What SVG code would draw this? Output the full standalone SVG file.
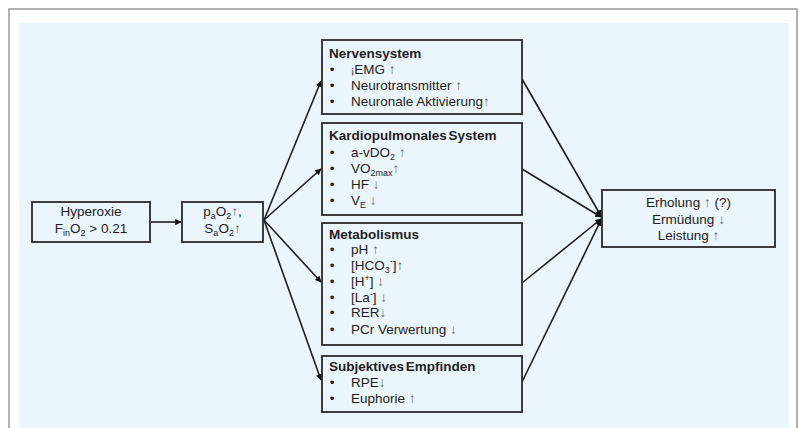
<svg xmlns="http://www.w3.org/2000/svg" width="805" height="428" viewBox="0 0 805 428">
<defs>
<style>
text{font-family:"Liberation Sans",Arial,sans-serif;font-size:13.5px;fill:#1e1e1e}
.t{font-weight:bold;word-spacing:-2px}
.c{text-anchor:middle}
.b{text-anchor:middle}
.s{font-size:9px}
.ar{fill:#6a6a6a}
.box{fill:#eaf5fc;stroke:#2a2a2a;stroke-width:1.8}
.ln{fill:none;stroke:#1e1e1e;stroke-width:1.6}
</style>
<marker id="ah" viewBox="0 0 10 10" refX="9" refY="5" markerWidth="4" markerHeight="4" orient="auto" markerUnits="strokeWidth">
<path d="M0,0 L10,5 L0,10 z" fill="#111"/>
</marker>
</defs>
<rect x="0" y="0" width="805" height="428" fill="#ffffff"/>
<path d="M9,428 V9 H797 V428" fill="none" stroke="#999" stroke-width="1.5"/>
<rect x="19" y="23" width="770" height="405" fill="#eaf5fc"/>

<g id="connectors">
<line class="ln" x1="151" y1="222" x2="181" y2="222" marker-end="url(#ah)"/>
<line class="ln" x1="264" y1="220" x2="321" y2="81" marker-end="url(#ah)"/>
<line class="ln" x1="264" y1="220" x2="321" y2="169" marker-end="url(#ah)"/>
<line class="ln" x1="264" y1="220" x2="321" y2="282" marker-end="url(#ah)"/>
<line class="ln" x1="264" y1="220" x2="321" y2="380" marker-end="url(#ah)"/>
<line class="ln" x1="522" y1="79" x2="601" y2="216" marker-end="url(#ah)"/>
<line class="ln" x1="522" y1="169" x2="601" y2="217" marker-end="url(#ah)"/>
<line class="ln" x1="522" y1="283" x2="601" y2="219" marker-end="url(#ah)"/>
<line class="ln" x1="522" y1="382" x2="601" y2="220" marker-end="url(#ah)"/>
</g>

<g id="hyperoxie">
<rect class="box" x="32" y="202" width="118" height="40"/>
<text class="c" x="91" y="216">Hyperoxie</text>
<text class="c" x="91" y="233">F<tspan class="s" dy="3">in</tspan><tspan dy="-3">O</tspan><tspan class="s" dy="3">2</tspan><tspan dy="-3"> &gt; 0.21</tspan></text>
</g>

<g id="pao2">
<rect class="box" x="182" y="202" width="81" height="40"/>
<text class="c" x="222.5" y="216">p<tspan class="s" dy="3">a</tspan><tspan dy="-3">O</tspan><tspan class="s" dy="3">2</tspan><tspan class="ar" dy="-3">↑</tspan>,</text>
<text class="c" x="222.5" y="233">S<tspan class="s" dy="3">a</tspan><tspan dy="-3">O</tspan><tspan class="s" dy="3">2</tspan><tspan class="ar" dy="-3">↑</tspan></text>
</g>

<g id="nervensystem">
<rect class="box" x="322" y="40" width="200" height="74"/>
<text class="t" x="329" y="57.5">Nervensystem</text>
<text class="b" x="332" y="74">•</text><text x="351" y="74"><tspan font-size="10">¡</tspan>EMG <tspan class="ar">↑</tspan></text>
<text class="b" x="332" y="90">•</text><text x="351" y="90">Neurotransmitter <tspan class="ar">↑</tspan></text>
<text class="b" x="332" y="106">•</text><text x="351" y="106">Neuronale Aktivierung<tspan class="ar">↑</tspan></text>
</g>

<g id="kardiopulmonal">
<rect class="box" x="322" y="123" width="200" height="92"/>
<text class="t" x="329" y="139.5">Kardiopulmonales System</text>
<text class="b" x="332" y="157">•</text><text x="351" y="157">a-vDO<tspan class="s" dy="3">2</tspan><tspan class="ar" dy="-3"> ↑</tspan></text>
<text class="b" x="332" y="173">•</text><text x="351" y="173">VO<tspan class="s" dy="3">2max</tspan><tspan class="ar" dy="-3">↑</tspan></text>
<text class="b" x="332" y="189">•</text><text x="351" y="189">HF <tspan class="ar">↓</tspan></text>
<text class="b" x="332" y="204.5">•</text><text x="351" y="204.5">V<tspan class="s" dy="3">E</tspan><tspan class="ar" dy="-3"> ↓</tspan></text>
</g>

<g id="metabolismus">
<rect class="box" x="322" y="223" width="200" height="122"/>
<text class="t" x="329" y="238.5">Metabolismus</text>
<text class="b" x="332" y="254">•</text><text x="351" y="254">pH <tspan class="ar">↑</tspan></text>
<text class="b" x="332" y="270">•</text><text x="351" y="270">[HCO<tspan class="s" dy="3">3</tspan><tspan class="s" dy="-9">-</tspan><tspan dy="6">]</tspan><tspan class="ar">↑</tspan></text>
<text class="b" x="332" y="286">•</text><text x="351" y="286">[H<tspan class="s" dy="-5">+</tspan><tspan dy="5">] </tspan><tspan class="ar">↓</tspan></text>
<text class="b" x="332" y="301.5">•</text><text x="351" y="301.5">[La<tspan class="s" dy="-5">-</tspan><tspan dy="5">] </tspan><tspan class="ar">↓</tspan></text>
<text class="b" x="332" y="317">•</text><text x="351" y="317">RER<tspan class="ar">↓</tspan></text>
<text class="b" x="332" y="334">•</text><text x="351" y="334">PCr Verwertung <tspan class="ar">↓</tspan></text>
</g>

<g id="subjektiv">
<rect class="box" x="322" y="356" width="200" height="56"/>
<text class="t" x="329" y="370.5">Subjektives Empfinden</text>
<text class="b" x="332" y="387">•</text><text x="351" y="387">RPE<tspan class="ar">↓</tspan></text>
<text class="b" x="332" y="402.5">•</text><text x="351" y="402.5">Euphorie <tspan class="ar">↑</tspan></text>
</g>

<g id="ergebnis">
<rect class="box" x="602" y="190" width="173" height="57"/>
<text class="c" x="688.5" y="207">Erholung <tspan class="ar">↑</tspan> (?)</text>
<text class="c" x="688.5" y="223.5">Ermüdung <tspan class="ar">↓</tspan></text>
<text class="c" x="688.5" y="240">Leistung <tspan class="ar">↑</tspan></text>
</g>
</svg>
